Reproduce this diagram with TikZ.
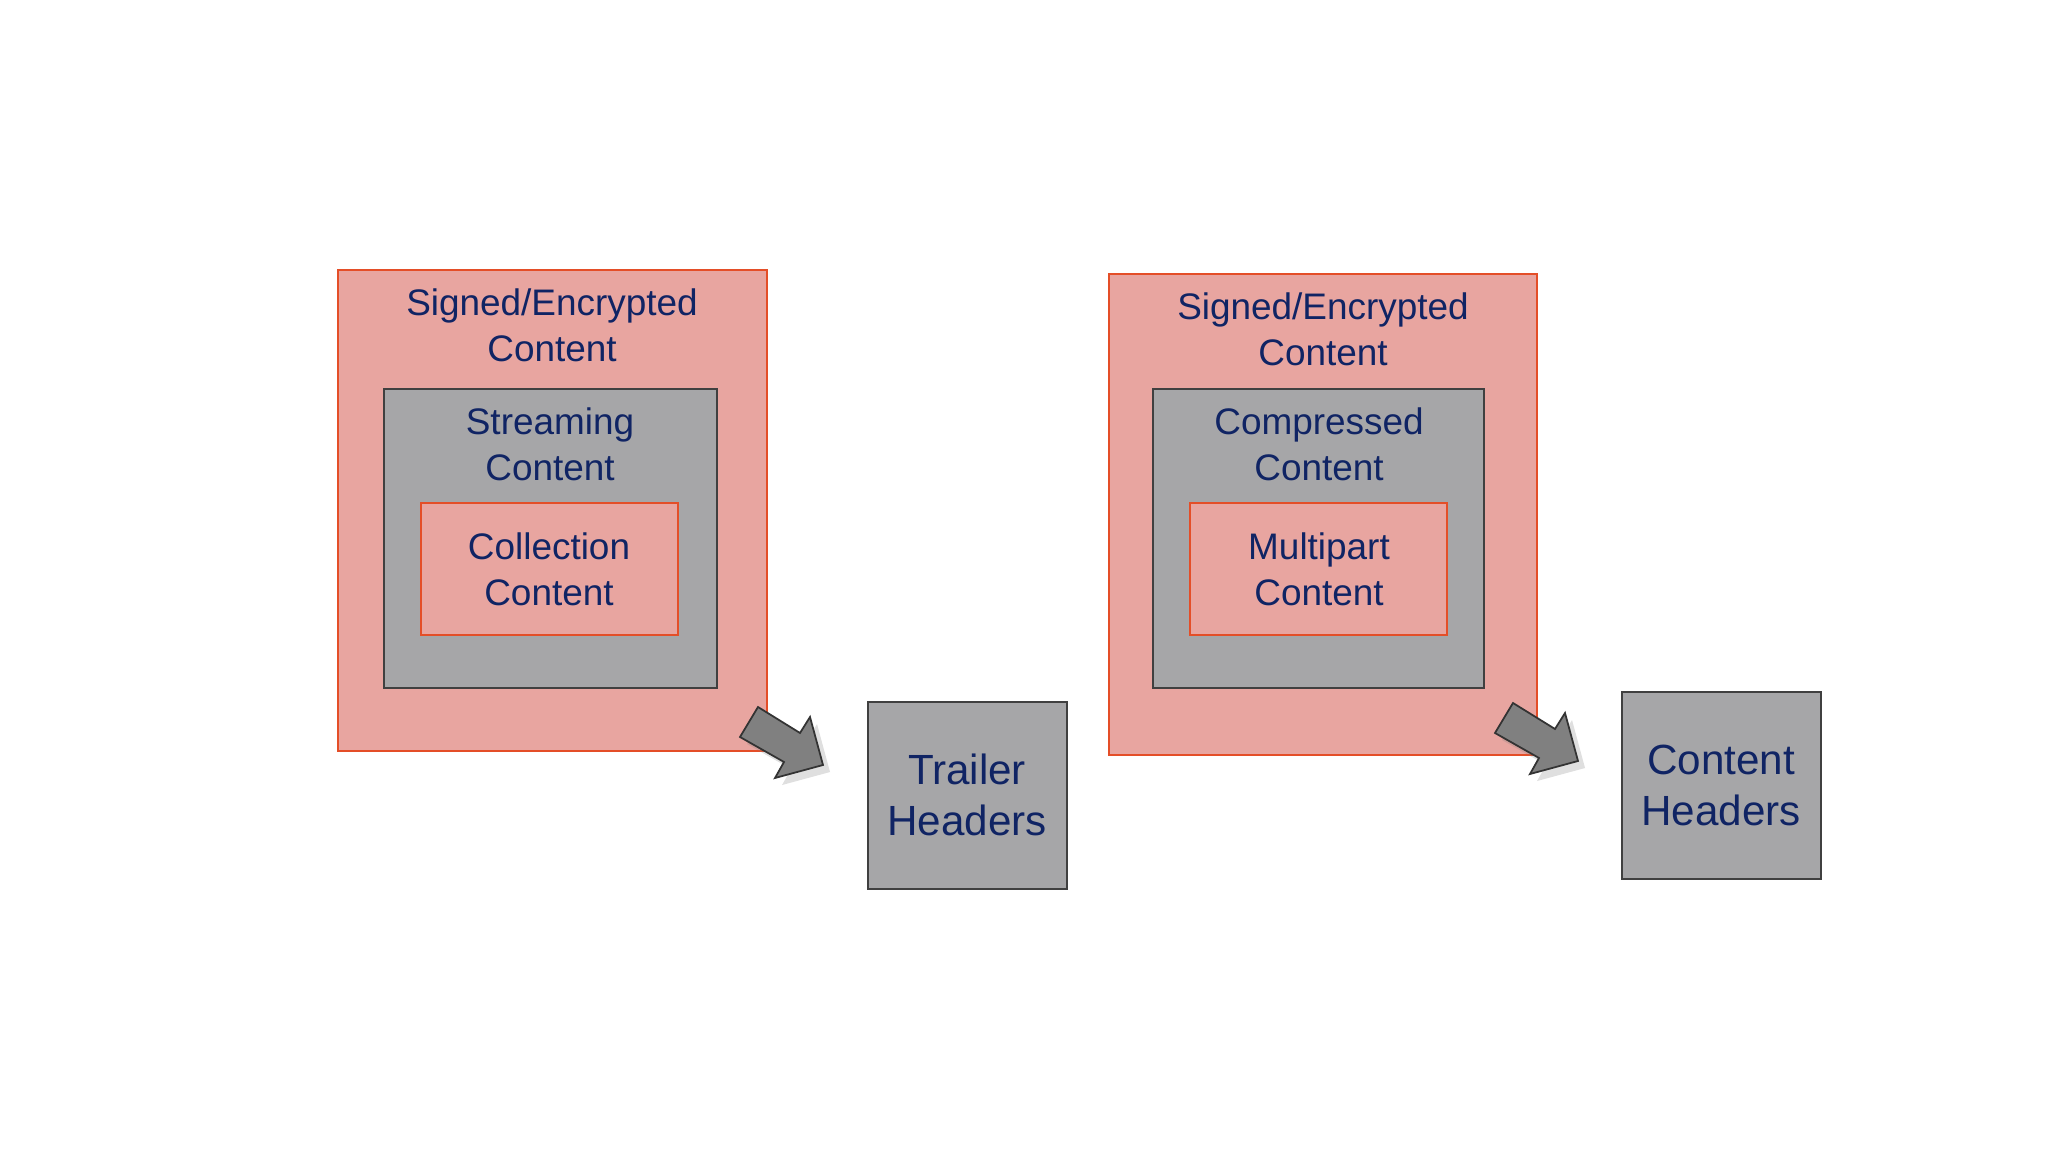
\documentclass[tikz,border=0pt]{standalone}
\usepackage{fontspec}
\setmainfont{Liberation Sans}
\usetikzlibrary{shadows}
\definecolor{txt}{RGB}{16,36,100}
\definecolor{pinkf}{RGB}{232,165,160}
\definecolor{redb}{RGB}{228,78,40}
\definecolor{greyf}{RGB}{166,166,168}
\begin{document}
\begin{tikzpicture}[x=0.01cm,y=-0.01cm,
  outer/.style={draw=redb,fill=pinkf,line width=0.6pt},
  mid/.style={draw=black!75,fill=greyf,line width=0.6pt},
  inner/.style={draw=redb,fill=pinkf,line width=0.6pt},
  hdr/.style={draw=black!75,fill=greyf,line width=0.6pt},
  lab/.style={text=txt,align=center,font=\fontsize{10.5}{13}\selectfont},
  big/.style={text=txt,align=center,font=\fontsize{12}{14.5}\selectfont},
  arr/.style={draw=black!80,fill=black!50,line width=0.5pt,drop shadow={opacity=0.25,shadow xshift=2pt,shadow yshift=-2pt}}]
\useasboundingbox (0,0) rectangle (2048,1152);
% left
\draw[outer] (338,270) rectangle (767,751);
\draw[mid] (384,389) rectangle (717,688);
\draw[inner] (421,503) rectangle (678,635);
\node[lab] (l1) at (552,325) {Signed/Encrypted\\Content};
\node[lab] (l2) at (550,444) {Streaming\\Content};
\node[lab] (l3) at (549,569) {Collection\\Content};
\draw[hdr] (868,702) rectangle (1067,889);
\node[big] (th) at (967,795) {Trailer\\Headers};
\path[arr] (758,707) -- (800,733) -- (810,717) -- (823,765) -- (775,778) -- (784,762) -- (740,737) -- cycle;
% right
\draw[outer] (1109,274) rectangle (1537,755);
\draw[mid] (1153,389) rectangle (1484,688);
\draw[inner] (1190,503) rectangle (1447,635);
\node[lab] (r1) at (1323,329) {Signed/Encrypted\\Content};
\node[lab] (r2) at (1319,444) {Compressed\\Content};
\node[lab] (r3) at (1319,569) {Multipart\\Content};
\draw[hdr] (1622,692) rectangle (1821,879);
\node[big] (ch) at (1721,785) {Content\\Headers};
\begin{scope}[shift={(755,-4)}]
\path[arr] (758,707) -- (800,733) -- (810,717) -- (823,765) -- (775,778) -- (784,762) -- (740,737) -- cycle;
\end{scope}
\end{tikzpicture}
\end{document}
